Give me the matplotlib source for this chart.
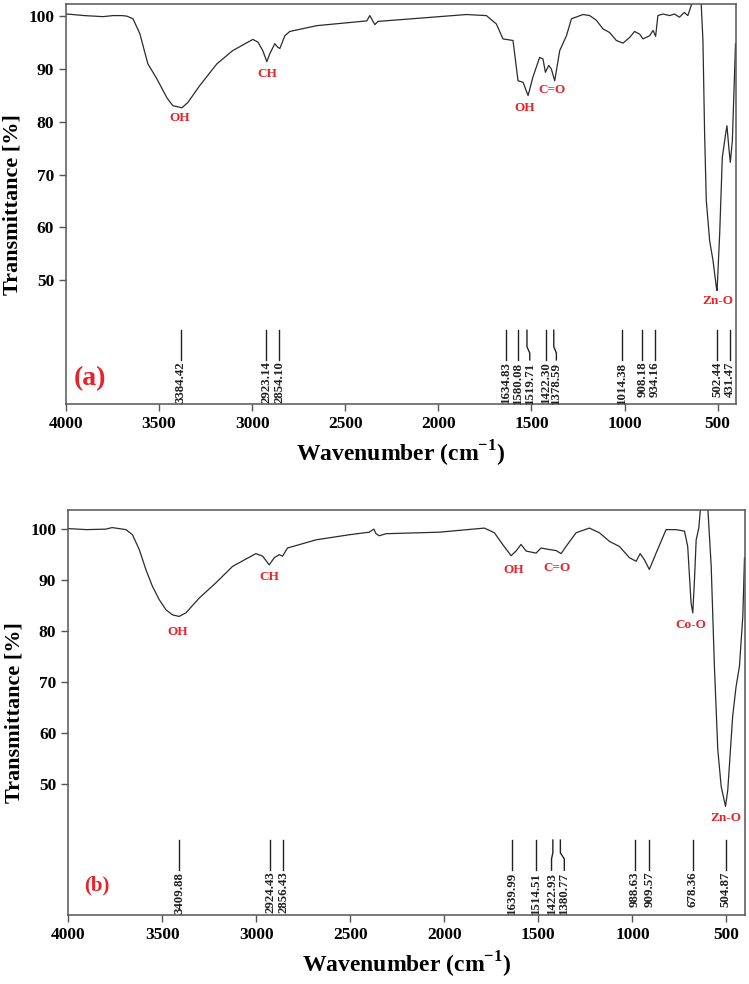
import matplotlib
matplotlib.use("Agg")
from matplotlib import pyplot as plt

plt.rcParams["font.family"] = ["Liberation Serif", "DejaVu Serif"]
plt.rcParams["mathtext.fontset"] = "custom"
plt.rcParams["mathtext.rm"] = "Liberation Serif:bold"
plt.rcParams["mathtext.bf"] = "Liberation Serif:bold"

# spectrum (a)
top_wn = [3996, 3900, 3800, 3748, 3700, 3673, 3640, 3603, 3560, 3512, 3458, 3426, 3377, 3345,
          3281, 3189, 3104, 2996, 2969, 2943, 2921, 2905, 2878, 2862, 2851, 2824, 2798, 2653,
          2384, 2368, 2341, 2324, 1849, 1742, 1688, 1653, 1599, 1572, 1545, 1518, 1492, 1456,
          1438, 1425, 1407, 1393, 1375, 1348, 1312, 1285, 1223, 1187, 1151, 1116, 1080, 1044,
          1008, 972, 946, 919, 901, 865, 847, 833, 821, 794, 758, 732, 705, 679, 660, 641, 620,
          600, 588, 579, 570, 561, 543, 525, 507, 503, 489, 475, 457, 450, 440, 432, 421, 414, 404]
top_T = [100.3, 100.0, 99.8, 100.0, 100.0, 99.9, 99.4, 96.6, 90.9, 88.1, 84.5, 83.0, 82.6, 83.6,
         86.8, 90.9, 93.4, 95.5, 95.0, 93.4, 91.3, 92.8, 94.7, 94.0, 93.8, 96.2, 97.0, 98.1,
         99.0, 100.0, 98.3, 98.9, 100.2, 100.0, 98.4, 95.6, 95.3, 87.7, 87.4, 84.9, 88.4, 92.1,
         91.8, 89.3, 90.6, 89.9, 87.7, 93.4, 96.2, 99.4, 100.2, 100.0, 99.1, 97.5, 96.8, 95.3,
         94.8, 95.9, 97.0, 96.5, 95.6, 96.2, 97.2, 96.1, 100.0, 100.3, 100.0, 100.3, 99.7, 100.6,
         100.0, 102.0, 104.0, 104.0, 102.0, 95.3, 77.7, 65.1, 57.5, 53.8, 48.7, 48.1, 58.9, 73.2,
         77.7, 79.2, 75.1, 72.3, 76.4, 84.0, 94.7]

# spectrum (b)
bot_wn = [4000, 3900, 3800, 3766, 3693, 3658, 3622, 3587, 3552, 3516, 3480, 3445, 3410, 3374,
          3303, 3214, 3126, 3002, 2966, 2931, 2904, 2878, 2860, 2834, 2682, 2505, 2399, 2375,
          2363, 2346, 2310, 2027, 1787, 1734, 1690, 1645, 1619, 1592, 1565, 1512, 1486, 1441,
          1406, 1379, 1353, 1299, 1229, 1176, 1122, 1069, 1016, 980, 959, 936, 910, 874, 821,
          768, 723, 706, 688, 679, 670, 661, 647, 638, 620, 599, 581, 564, 546, 528, 505, 493,
          467, 449, 431, 413, 404]
bot_T = [100.0, 99.8, 99.9, 100.2, 99.8, 98.8, 95.9, 92.0, 88.7, 86.1, 84.1, 83.1, 82.8, 83.5,
         86.4, 89.4, 92.6, 95.1, 94.6, 92.9, 94.3, 94.9, 94.6, 96.2, 97.8, 98.8, 99.3, 99.9,
         99.0, 98.6, 99.0, 99.3, 100.1, 99.2, 96.9, 94.7, 95.6, 96.9, 95.6, 95.2, 96.2, 95.9,
         95.7, 95.1, 96.5, 99.2, 100.1, 99.2, 97.5, 96.5, 94.3, 93.6, 95.1, 93.9, 92.0, 95.2, 99.8,
         99.8, 99.5, 96.5, 85.4, 83.5, 90.0, 97.8, 100.1, 104.0, 106.0, 104.0, 92.6, 73.0, 56.7,
         49.5, 45.6, 48.8, 63.2, 69.0, 73.0, 82.8, 94.3]

# peak markers: line top position, text position, label
top_mark_wn = [3384.42, 2923.14, 2854.10, 1634.83, 1573, 1524, 1422.30, 1380, 1014.38, 905, 837, 502.44, 434]
top_text_wn = [3384.42, 2923.14, 2854.10, 1634.83, 1573, 1509, 1422.30, 1366, 1014.38, 905, 837, 502.44, 434]
top_marks = ["3384.42", "2923.14", "2854.10", "1634.83", "1580.08", "1519.71", "1422.30", "1378.59",
             "1014.38", "908.18", "934.16", "502.44", "431.47"]

bot_mark_wn = [3409.88, 2924.43, 2856.43, 1639.99, 1514.51, 1422.93, 1383, 988.63, 909.57, 678.36, 504.87]
bot_text_wn = [3409.88, 2924.43, 2856.43, 1639.99, 1514.51, 1430, 1362, 988.63, 909.57, 678.36, 504.87]
bot_marks = ["3409.88", "2924.43", "2856.43", "1639.99", "1514.51", "1422.93", "1380.77",
             "988.63", "909.57", "678.36", "504.87"]

# band assignments
top_bands = ["OH", "CH", "OH", "C=O", "Zn-O"]
top_band_wn = [3388, 2921, 1536, 1388, 498]
top_band_T = [80.6, 88.9, 82.5, 86.0, 46.1]

bot_bands = ["OH", "CH", "OH", "C=O", "Co-O", "Zn-O"]
bot_band_wn = [3419, 2931, 1633, 1401, 688, 505]
bot_band_T = [79.7, 90.5, 91.8, 92.3, 81.2, 43.3]

RED = "#e82229"


def draw_panel(ax, wn, T, mark_wn, text_wn, marks, bands, band_wn, band_T,
               ylim, mark_y, tag, tag_pos, tag_size):
    ax.plot(wn, T, color="#2b2b2b", lw=0.9)
    y0, y1, y2 = mark_y
    for m, t, lab in zip(mark_wn, text_wn, marks):
        ax.plot([m, m, t, t], [y0, y1, y1 - 1.2, y2], color="#222222", lw=1.0)
        ax.text(t, y2 - 0.3, lab, rotation=90, ha="center", va="top", fontsize=9.3,
                fontweight="bold", color="#222222")
    for b, x, y in zip(bands, band_wn, band_T):
        ax.text(x, y, b, ha="center", va="center", fontsize=9.5, fontweight="bold", color=RED)
    ax.text(tag_pos[0], tag_pos[1], tag, ha="center", va="center", fontsize=tag_size,
            fontweight="bold", color=RED)
    ax.set_xlim(4000, 400)
    ax.set_ylim(*ylim)
    ax.set_xticks([4000, 3500, 3000, 2500, 2000, 1500, 1000, 500])
    ax.set_yticks([50, 60, 70, 80, 90, 100])
    ax.tick_params(labelsize=12.5, length=5, width=1.0, color="#555555")
    for lab in ax.get_xticklabels() + ax.get_yticklabels():
        lab.set_fontweight("bold")
    for sp in ax.spines.values():
        sp.set_color("#555555")
        sp.set_linewidth(1.1)
    ax.set_ylabel("Transmittance [%]", fontsize=16, fontweight="bold", labelpad=4)
    ax.set_xlabel(r"Wavenumber (cm$^{\mathbf{-1}}$)", fontsize=17, fontweight="bold", labelpad=5)


fig = plt.figure(figsize=(7.49, 9.84), dpi=100)
ax1 = fig.add_axes([0.088, 0.589, 0.895, 0.407])
ax2 = fig.add_axes([0.091, 0.070, 0.904, 0.412])

draw_panel(ax1, top_wn, top_T, top_mark_wn, top_text_wn, top_marks, top_bands, top_band_wn,
           top_band_T, (26.6, 102.2), (40.6, 37.5, 35.0), "(a)", (3870, 31.5), 20)
draw_panel(ax2, bot_wn, bot_T, bot_mark_wn, bot_text_wn, bot_marks, bot_bands, bot_band_wn,
           bot_band_T, (24.3, 103.7), (39.0, 36.5, 33.1), "(b)", (3846, 30.2), 15)

fig.savefig("out.png", dpi=100)
